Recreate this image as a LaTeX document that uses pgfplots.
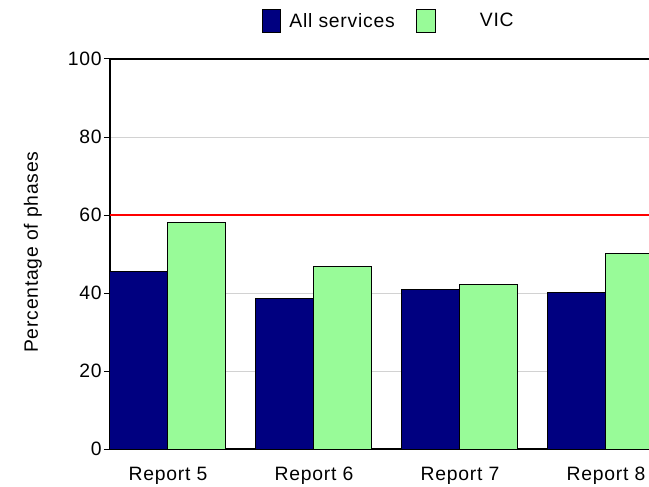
\documentclass[border=0pt]{standalone}
\usepackage{pgfplots}
\pgfplotsset{compat=1.18}
\usepackage{fontspec}
\setmainfont{Liberation Sans}[LetterSpace=4]
\definecolor{navyb}{RGB}{0,0,128}
\definecolor{paleg}{RGB}{152,251,152}
\begin{document}
\begin{tikzpicture}
\path[use as bounding box] (0,0) rectangle (486.75pt,364.5pt);
\begin{axis}[
  at={(82.5pt,27.75pt)}, anchor=south west,
  scale only axis, width=404.25pt, height=292.5pt,
  xmin=-0.397, xmax=3.295, ymin=0, ymax=100,
  axis x line=box, axis y line=left,
  axis line style={-, line width=1pt, black},
  xtick={0,1,2,3},
  xticklabels={Report 5,Report 6,Report 7,Report 8},
  x tick style={draw=none},
  ytick={0,20,40,60,80,100},
  y tick style={black, line width=0.75pt},
  tick align=outside, major tick length=4.5pt,
  ymajorgrids, grid style={gray!35, line width=0.75pt},
  extra y ticks={60}, extra y tick labels={},
  extra y tick style={grid style={red, line width=0.9pt}},
  ybar=0pt, bar width=43.5pt,
  font=\fontsize{14.5}{16}\selectfont,
  tick label style={font=\fontsize{14.5}{16}\selectfont},
  /pgf/number format/assume math mode=true,
  yticklabel style={inner xsep=1.5pt},
  xticklabel style={yshift=-5.5pt},
  ylabel={Percentage of phases},
  ylabel style={at={(axis description cs:-0.143,0.505)}, anchor=center},
  legend columns=2,
  legend style={at={(axis description cs:0.5176,1.097)}, anchor=center, draw=none, fill=none,
    font=\fontsize{14.5}{16}\selectfont,
    /tikz/every odd column/.append style={column sep=4pt},
    /tikz/every even column/.append style={column sep=14pt}},
  legend image code/.code={\draw[#1,draw=black,line width=0.75pt] (0pt,-8.5pt) rectangle (14pt,8.5pt);},
]
\addplot[fill=navyb, draw=black, line width=0.75pt] coordinates {(0,45.4) (1,38.7) (2,40.8) (3,40.2)};
\addplot[fill=paleg, draw=black, line width=0.75pt] coordinates {(0,58.2) (1,46.9) (2,42.3) (3,50.2)};
\legend{All services, \hspace{27pt}VIC}
\end{axis}
\end{tikzpicture}
\end{document}
